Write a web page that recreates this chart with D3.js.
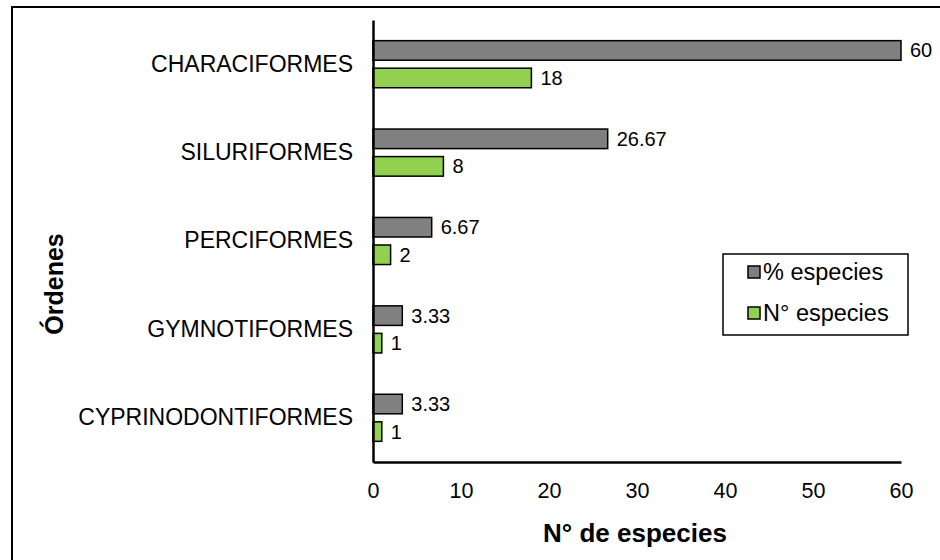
<!DOCTYPE html>
<html><head><meta charset="utf-8">
<script src="https://cdn.jsdelivr.net/npm/d3@7"></script>
<style>body{margin:0;background:#fff}svg{display:block;font-family:Arial,"Liberation Sans",sans-serif}</style>
</head><body>
<script>
const categories = ["CHARACIFORMES","SILURIFORMES","PERCIFORMES","GYMNOTIFORMES","CYPRINODONTIFORMES"];
const pctValues = [60, 26.67, 6.67, 3.33, 3.33];
const numValues = [18, 8, 2, 1, 1];
const pctLabels = ["60","26.67","6.67","3.33","3.33"];
const numLabels = ["18","8","2","1","1"];
const seriesNames = ["% especies","N° especies"];
const xTicks = [0,10,20,30,40,50,60];
const colors = ["#808080","#92d050"];

const FONT = "Arial,'Liberation Sans',sans-serif";
const W=940,H=560;
const svg=d3.select("body").append("svg").attr("width",W).attr("height",H);
svg.append("rect").attr("x",12).attr("y",7).attr("width",940).attr("height",560)
  .attr("fill","#fff").attr("stroke","#000").attr("stroke-width",2);

const x=d3.scaleLinear().domain([0,60]).range([373,901]);
const y=d3.scaleBand().domain(categories).range([20,462]);
const inner=d3.scaleBand().domain([0,1]).range([0,y.bandwidth()]).paddingInner(0.29).paddingOuter(0.75);

const g=svg.append("g");
const series=[pctValues,numValues];
const labels=[pctLabels,numLabels];
series.forEach((vals,si)=>{
  g.selectAll(".b"+si).data(categories).enter().append("rect")
    .attr("x",x(0)).attr("y",c=>y(c)+inner(si))
    .attr("width",(c,i)=>x(vals[i])-x(0)).attr("height",inner.bandwidth())
    .attr("fill",colors[si]).attr("stroke","#000").attr("stroke-width",1.5);
  g.selectAll(".l"+si).data(categories).enter().append("text")
    .attr("x",(c,i)=>x(vals[i])+9).attr("y",c=>y(c)+inner(si)+inner.bandwidth()/2)
    .attr("dy","0.35em").attr("font-size",20).text((c,i)=>labels[si][i]);
});

// axes
const xa=svg.append("g").attr("transform","translate(0,462)")
  .call(d3.axisBottom(x).tickValues(xTicks).tickSize(0).tickPadding(21));
xa.select(".domain").attr("stroke","#000").attr("stroke-width",2.5);
xa.selectAll("text").attr("font-size",21.5).attr("font-family",FONT).attr("fill","#000");

const ya=svg.append("g").attr("transform","translate(373,0)")
  .call(d3.axisLeft(y).tickSize(0).tickPadding(20));
ya.select(".domain").attr("stroke","#000").attr("stroke-width",2.5);
ya.selectAll("text").attr("font-size",23).attr("font-family",FONT).attr("fill","#000");

svg.append("text").attr("x",635).attr("y",542).attr("text-anchor","middle")
  .attr("font-size",26).attr("font-weight","bold").text("N° de especies");
svg.append("text").attr("transform","translate(63,284) rotate(-90)").attr("text-anchor","middle")
  .attr("font-size",25).attr("font-weight","bold").text("Órdenes");

// legend
const lg=svg.append("g");
lg.append("rect").attr("x",723).attr("y",254).attr("width",185).attr("height",81)
  .attr("fill","#fff").attr("stroke","#000").attr("stroke-width",1.5);
seriesNames.forEach((n,i)=>{
  const cy=272+i*41;
  lg.append("rect").attr("x",748).attr("y",cy-6).attr("width",12).attr("height",12)
    .attr("fill",colors[i]).attr("stroke","#000").attr("stroke-width",1.5);
  lg.append("text").attr("x",763).attr("y",cy).attr("dy","0.35em").attr("font-size",23.5).text(n);
});
</script>
</body></html>
